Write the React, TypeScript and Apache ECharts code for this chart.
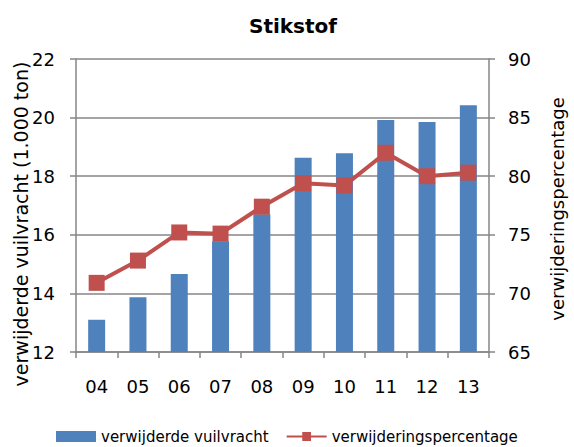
import React, { useEffect, useRef } from "react";
import * as echarts from "echarts";

const categories = ["04", "05", "06", "07", "08", "09", "10", "11", "12", "13"];
const vuilvracht = [13.1, 13.87, 14.66, 15.78, 16.7, 18.63, 18.78, 19.92, 19.85, 20.42];
const percentage = [70.9, 72.8, 75.2, 75.1, 77.4, 79.4, 79.2, 82.0, 80.0, 80.3];
const leftTicks = { min: 12, max: 22, interval: 2 };
const rightTicks = { min: 65, max: 90, interval: 5 };

const FONT = "DejaVu Sans";
const AXIS = "#868686";

export default function App() {
  const ref = useRef<HTMLDivElement>(null);
  useEffect(() => {
    if (!ref.current) return;
    const chart = echarts.init(ref.current, null, { renderer: "svg" });
    chart.setOption({
      animation: false,
      backgroundColor: "#ffffff",
      title: {
        text: "Stikstof",
        left: 288,
        top: 11,
        textAlign: "center",
        textStyle: { fontFamily: FONT, fontSize: 20, fontWeight: "bold", color: "#000" },
      },
      grid: { left: 76, right: 85, top: 59, bottom: 95 },
      legend: {
        top: 429,
        left: 56,
        padding: 0,
        itemWidth: 40,
        itemHeight: 11,
        itemGap: 17,
        textStyle: { fontFamily: FONT, fontSize: 15, color: "#000" },
        data: [
          { name: "verwijderde vuilvracht", icon: "rect" },
          { name: "verwijderingspercentage" },
        ],
      },
      graphic: [
        {
          type: "text",
          x: 21,
          y: 224,
          rotation: Math.PI / 2,
          style: {
            text: "verwijderde vuilvracht (1.000 ton)",
            fontFamily: FONT,
            fontSize: 19,
            fill: "#000",
            align: "center",
            verticalAlign: "middle",
          },
        },
        {
          type: "text",
          x: 557,
          y: 209,
          rotation: Math.PI / 2,
          style: {
            text: "verwijderingspercentage",
            fontFamily: FONT,
            fontSize: 18,
            fill: "#000",
            align: "center",
            verticalAlign: "middle",
          },
        },
      ],
      xAxis: {
        type: "category",
        data: categories,
        axisLine: { lineStyle: { color: AXIS, width: 1.5 } },
        axisTick: { show: true, length: 6, lineStyle: { color: AXIS, width: 1.5 } },
        axisLabel: { fontFamily: FONT, fontSize: 18, color: "#000", margin: 25 },
      },
      yAxis: [
        {
          type: "value",
          min: leftTicks.min,
          max: leftTicks.max,
          interval: leftTicks.interval,
          axisLine: { show: true, lineStyle: { color: AXIS, width: 1.5 } },
          axisTick: { show: true, length: 6, lineStyle: { color: AXIS, width: 1.5 } },
          axisLabel: { fontFamily: FONT, fontSize: 18, color: "#000", margin: 21 },
          splitLine: { show: true, lineStyle: { color: AXIS, width: 1.5 } },
        },
        {
          type: "value",
          min: rightTicks.min,
          max: rightTicks.max,
          interval: rightTicks.interval,
          axisLine: { show: true, lineStyle: { color: AXIS, width: 1.5 } },
          axisTick: { show: true, length: 6, lineStyle: { color: AXIS, width: 1.5 } },
          axisLabel: { fontFamily: FONT, fontSize: 18, color: "#000", margin: 19 },
          splitLine: { show: false },
        },
      ],
      series: [
        {
          name: "verwijderde vuilvracht",
          type: "bar",
          data: vuilvracht,
          barWidth: 17,
          itemStyle: { color: "#4F81BD" },
          yAxisIndex: 0,
        },
        {
          name: "verwijderingspercentage",
          type: "line",
          data: percentage,
          yAxisIndex: 1,
          symbol: "rect",
          symbolSize: 16,
          lineStyle: { color: "#C0504D", width: 4 },
          itemStyle: { color: "#C0504D" },
        },
      ],
    });
    return () => chart.dispose();
  }, []);
  return (
    <div
      ref={ref}
      style={{ position: "absolute", left: 0, top: 0, width: 574, height: 447 }}
    />
  );
}
